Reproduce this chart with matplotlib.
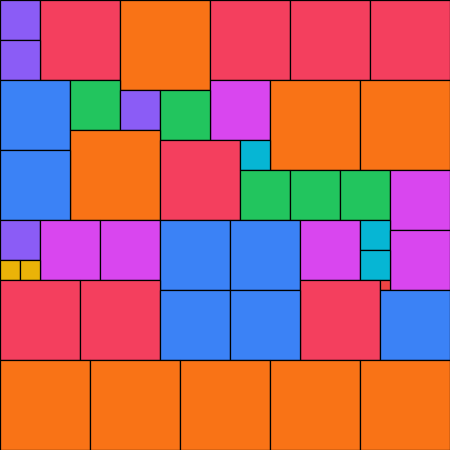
import matplotlib
matplotlib.use('Agg')
import matplotlib.pyplot as plt
from matplotlib.patches import Rectangle

# side lengths of the squares, in placement order (n copies of size n, 1..9)
sizes = [4, 8, 9, 8, 8, 8, 4, 7, 5, 6, 9, 9, 4, 5, 9, 8, 3, 7, 5, 5, 5, 6, 4,
         6, 6, 7, 7, 6, 3, 6, 3, 2, 2, 8, 8, 8, 1, 7, 7, 7, 9, 9, 9, 9, 9]
colors = {1: '#ef4444', 2: '#eab308', 3: '#06b6d4', 4: '#8b5cf6', 5: '#22c55e',
          6: '#d946ef', 7: '#3b82f6', 8: '#f43f5e', 9: '#f97316'}
width = 45

# skyline packing: lowest spot first, then leftmost
heights = [0] * width
placed = []
for s in sizes:
    best = None
    for x in range(width - s + 1):
        y = max(heights[x:x + s])
        if best is None or y < best[1]:
            best = (x, y)
    x, y = best
    for i in range(x, x + s):
        heights[i] = y + s
    placed.append((x, y, s))

fig = plt.figure(figsize=(4.5, 4.5), dpi=100)
ax = fig.add_axes([0, 0, 1, 1])
for x, y, s in placed:
    ax.add_patch(Rectangle((x, y), s, s, facecolor=colors[s],
                           edgecolor='black', linewidth=0.9))
ax.set_xlim(0, width)
ax.set_ylim(width, 0)
ax.axis('off')

fig.savefig('out.png', dpi=100)
